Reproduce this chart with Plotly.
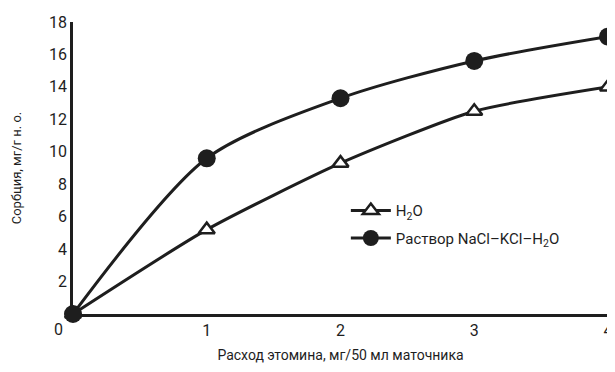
import plotly.graph_objects as go

x_vals = [0, 1, 2, 3, 4]
h2o = [0, 5.2, 9.3, 12.5, 14.0]
nacl = [0, 9.6, 13.3, 15.6, 17.1]
x_ticks = [1, 2, 3, 4]
y_ticks = [2, 4, 6, 8, 10, 12, 14, 16, 18]

FONT = "Roboto, Arial"
C = "#1e1e1e"

fig = go.Figure()
fig.add_trace(go.Scatter(
    x=x_vals, y=h2o, mode="lines+markers", name="H<sub>2</sub>O", legendgroup="a",
    line=dict(color=C, width=3, shape="spline", smoothing=0.6),
    marker=dict(symbol="triangle-up", size=14, color="white", line=dict(color=C, width=2.5)),
    cliponaxis=False,
))
fig.add_trace(go.Scatter(
    x=x_vals, y=nacl, mode="lines+markers", name="Раствор NaCl–KCl–H<sub>2</sub>O", legendgroup="b",
    line=dict(color=C, width=3, shape="spline", smoothing=0.8),
    marker=dict(symbol="circle", size=18, color=C),
    cliponaxis=False,
))

fig.add_annotation(x=0, y=0, xref="paper", yref="paper", text="0", showarrow=False,
                   xanchor="right", yanchor="top", xshift=-8, yshift=-4,
                   font=dict(family=FONT, size=16, color=C))

fig.update_layout(
    width=607, height=364,
    margin=dict(l=65, r=7, t=14, b=58, autoexpand=False),
    paper_bgcolor="white", plot_bgcolor="white",
    font=dict(family=FONT, color=C),
    showlegend=True,
    legend=dict(x=0.51, y=0.41, xanchor="left", yanchor="top",
                font=dict(family=FONT, size=15, color=C),
                bgcolor="rgba(0,0,0,0)", tracegroupgap=5, itemwidth=40),
    xaxis=dict(range=[0, 4], tickvals=x_ticks, showgrid=False, zeroline=False,
               showline=True, linecolor=C, linewidth=2.5, ticks="",
               tickfont=dict(family=FONT, size=16, color=C), automargin=False,
               ticklabeloverflow="allow",
               title=dict(text="Расход этомина, мг/50 мл маточника",
                          font=dict(family=FONT, size=14, color=C), standoff=12)),
    yaxis=dict(range=[0, 18], tickvals=y_ticks, showgrid=False, zeroline=False,
               showline=True, linecolor=C, linewidth=2.5, ticks="",
               tickfont=dict(family=FONT, size=16, color=C), automargin=False,
               title=dict(text="Сорбция, мг/г н. о.",
                          font=dict(family=FONT, size=13, color=C), standoff=25)),
)

fig.write_html("out.html")
